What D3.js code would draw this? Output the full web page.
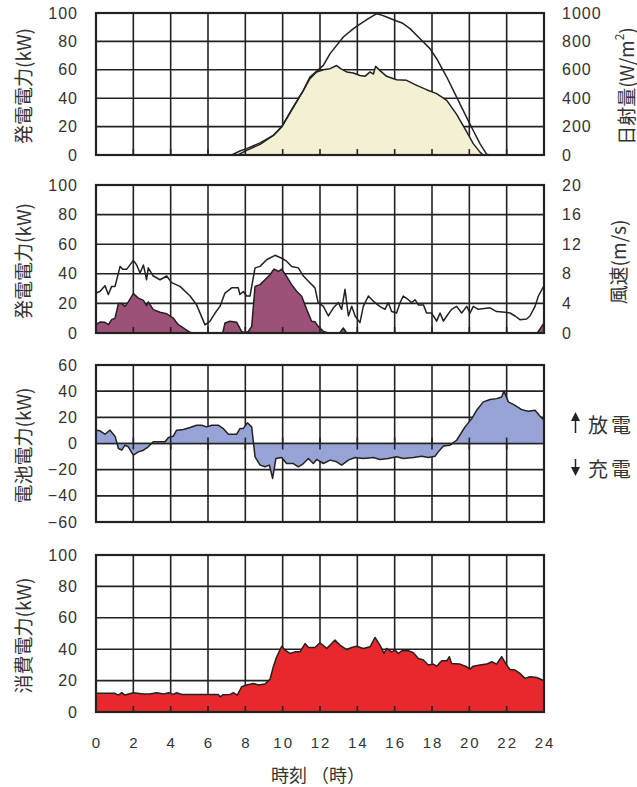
<!DOCTYPE html>
<html>
<head>
<meta charset="utf-8">
<script src="https://cdn.jsdelivr.net/npm/d3@7"></script>
<style>
  body { margin: 0; background: #fff; }
  svg { display: block; }
</style>
</head>
<body>
<div id="chart"></div>
<script>
// Hour ticks shared by every panel
const hourTicks = [0, 2, 4, 6, 8, 10, 12, 14, 16, 18, 20, 22, 24];

// Panel 1: solar generation (kW) and irradiance (W/m2), [hour, value]
const pvIrradiance = [[7.27, 0], [7.71, 28], [8.07, 45], [8.79, 85], [9.5, 138], [9.95, 197], [10.57, 338], [11.11, 455], [11.46, 549], [11.55, 560], [12.18, 631], [12.54, 714], [13.25, 831], [13.79, 890], [14.18, 925], [14.59, 960], [15.04, 995], [15.3, 985], [15.57, 972], [16.1, 944], [16.4, 930], [16.82, 890], [17.36, 819], [17.89, 749], [18.25, 678], [18.79, 549], [19.32, 408], [19.86, 263], [20.25, 162], [20.57, 80], [20.93, 5], [21.1, 0]];
const pvPower = [[7.6, 0], [8.07, 3.3], [8.79, 7.5], [9.5, 13.8], [9.95, 20], [10.57, 33.8], [11.11, 45.5], [11.46, 53.8], [11.82, 58.5], [12.18, 60], [12.54, 60.8], [12.89, 63], [13.1, 60.8], [13.43, 58.5], [13.79, 57.7], [14.14, 56], [14.41, 55.4], [14.68, 58.5], [14.86, 57], [14.98, 62.4], [15.2, 59.6], [15.57, 55.4], [16.1, 53], [16.64, 52.6], [17.18, 49], [17.71, 46], [18.25, 43.2], [18.79, 38.5], [19.32, 28.6], [19.86, 16.2], [20.21, 8], [20.57, 2], [20.75, 0]];

// Panel 2: wind generation (kW) and wind speed (m/s)
const windSpeed = [[0, 5.4], [0.21, 5.6], [0.48, 6.4], [0.66, 5.2], [0.84, 6.3], [1.02, 6.3], [1.29, 9.0], [1.43, 8.6], [1.64, 8.6], [1.82, 9.2], [2.0, 9.8], [2.18, 9.2], [2.36, 8.1], [2.54, 9.2], [2.71, 7.2], [2.8, 8.8], [3.07, 7.7], [3.43, 7.2], [3.79, 7.7], [4.05, 6.8], [4.5, 6.3], [5.04, 5.0], [5.39, 3.8], [5.84, 1.1], [6.11, 1.6], [6.38, 2.7], [6.64, 3.6], [6.91, 5.4], [7.27, 6.1], [7.62, 6.1], [7.71, 5.2], [7.89, 5.6], [8.07, 5.0], [8.25, 5.0], [8.52, 8.8], [8.79, 9.0], [9.14, 9.9], [9.59, 10.5], [9.95, 10.1], [10.21, 9.7], [10.48, 9.0], [10.84, 8.8], [11.11, 7.7], [11.46, 6.8], [11.73, 6.1], [11.9, 4.1], [12.18, 3.6], [12.45, 2.3], [12.72, 3.4], [12.98, 4.1], [13.16, 3.2], [13.34, 5.9], [13.52, 2.3], [13.7, 3.6], [13.88, 2.3], [14.14, 1.4], [14.32, 3.6], [14.59, 5.0], [14.86, 4.3], [15.2, 3.6], [15.48, 3.2], [15.66, 4.1], [15.84, 2.9], [16.1, 2.7], [16.29, 4.1], [16.46, 5.0], [16.73, 4.5], [16.91, 4.1], [17.09, 4.5], [17.27, 3.8], [17.54, 3.8], [17.71, 2.7], [17.98, 2.7], [18.25, 1.6], [18.43, 2.7], [18.61, 1.6], [18.79, 2.3], [19.05, 3.2], [19.32, 3.6], [19.59, 2.7], [19.86, 3.6], [20.04, 2.7], [20.21, 3.6], [20.48, 3.2], [21.11, 3.4], [21.46, 2.9], [21.91, 2.8], [22.18, 2.7], [22.45, 2.3], [22.71, 1.8], [23.07, 1.9], [23.25, 2.3], [23.52, 3.6], [23.7, 5.0], [24, 6.4]];
const windPower = [[0, 5.6], [0.21, 7.4], [0.48, 7.2], [0.66, 5.6], [0.84, 9], [1.02, 10], [1.2, 20], [1.38, 20], [1.55, 18], [1.73, 21], [2.0, 26.6], [2.27, 23.6], [2.54, 22], [2.71, 18.5], [2.8, 21], [3.07, 15.8], [3.43, 14], [3.79, 13], [4.14, 10], [4.41, 5.6], [4.68, 3.4], [4.95, 1.1], [5.13, 0], [6.79, 0], [6.91, 6.8], [7.18, 7.9], [7.54, 7.2], [7.8, 1.1], [7.98, 0], [8.16, 1], [8.34, 4.5], [8.52, 31.5], [8.79, 32.7], [9.05, 36], [9.32, 39.4], [9.54, 43.2], [9.77, 41.7], [9.95, 43.2], [10.21, 38.3], [10.48, 32.7], [10.75, 28.2], [11.02, 24.8], [11.29, 15.8], [11.55, 7.9], [11.73, 7.6], [11.9, 4.5], [12.18, 1.1], [12.45, 0], [13.05, 0], [13.25, 3.4], [13.43, 0], [23.6, 0], [23.7, 1], [24, 6.8]];

// Panel 3: battery power (kW), positive = discharge, negative = charge
const battery = [[0, 10.2], [0.21, 9.7], [0.48, 7.1], [0.75, 10.2], [1.02, 5.6], [1.2, -3.8], [1.38, -5.1], [1.55, -1.3], [1.73, -2.5], [2.0, -8.9], [2.27, -6.4], [2.54, -5.1], [2.8, -2.5], [3.07, 1.3], [3.43, 1.3], [3.7, 1.3], [3.88, 4.6], [4.14, 5.6], [4.32, 10.2], [4.68, 10.7], [5.04, 12.2], [5.39, 14], [5.66, 14], [5.93, 12.7], [6.2, 14], [6.55, 14], [6.82, 11.4], [7.09, 7.1], [7.54, 7.1], [7.71, 11.4], [7.89, 11.4], [8.11, 15.8], [8.34, 12.7], [8.52, -10.2], [8.79, -16.5], [9.05, -17.8], [9.29, -16.5], [9.46, -26.7], [9.64, -11.4], [9.95, -10.7], [10.21, -15.3], [10.57, -15.3], [10.84, -17.8], [11.11, -15.3], [11.38, -11.4], [11.64, -15.3], [11.82, -12.2], [12.18, -15.3], [12.54, -12.7], [12.89, -14], [13.16, -16.5], [13.52, -12.7], [13.88, -10.7], [14.32, -11.4], [14.86, -10.7], [15.2, -12.2], [15.66, -11.4], [16.1, -10.2], [16.46, -11.4], [17.0, -10.7], [17.45, -9.7], [17.8, -10.7], [18.16, -9.7], [18.34, -6.4], [18.61, -2], [18.97, -1.3], [19.32, 2.5], [19.77, 12.7], [20.13, 19], [20.39, 25.4], [20.75, 31.8], [21.11, 33.6], [21.46, 34.3], [21.73, 35.6], [21.86, 40.2], [22.09, 31.8], [22.45, 29.2], [22.8, 25.9], [23.16, 24.7], [23.52, 25.4], [23.79, 20.8], [24, 17.8]];

// Panel 4: consumption (kW)
const consumption = [[0, 11.9], [1.02, 11.9], [1.2, 10.8], [1.38, 12.3], [1.55, 10.8], [2.0, 12.3], [2.54, 11.4], [2.89, 11.4], [3.25, 12.3], [3.61, 11.4], [3.88, 12.3], [4.14, 11.2], [4.32, 12.3], [4.59, 11.2], [6.55, 11.2], [6.64, 9.7], [6.82, 11.0], [7.18, 11.2], [7.36, 12.3], [7.57, 10.8], [7.8, 16.1], [8.07, 17.2], [8.43, 18.2], [8.7, 17.2], [9.05, 17.8], [9.32, 20.8], [9.5, 28.8], [9.68, 35.2], [9.95, 41.9], [10.13, 39.4], [10.39, 37.3], [10.66, 38.3], [10.93, 38.3], [11.2, 43.6], [11.38, 41.1], [11.73, 41.1], [12.0, 44.1], [12.36, 40.5], [12.8, 45.8], [13.07, 42.6], [13.43, 39.8], [13.7, 41.1], [13.96, 41.9], [14.32, 40.5], [14.68, 41.5], [14.95, 47.5], [15.21, 42.6], [15.43, 37.3], [15.57, 40.5], [15.84, 38.3], [16.02, 39.4], [16.2, 37.3], [16.38, 39], [16.73, 39], [17.0, 37.7], [17.27, 34.1], [17.54, 33.1], [17.8, 29.9], [18.07, 30.5], [18.25, 29.2], [18.52, 32.6], [18.79, 32.6], [18.93, 35.2], [19.05, 30.9], [19.5, 30.5], [19.86, 28.8], [20.04, 27.3], [20.21, 29.2], [20.57, 29.9], [20.93, 30.5], [21.2, 32], [21.46, 30.5], [21.73, 35.2], [22.0, 29.9], [22.18, 27.1], [22.45, 26.7], [22.71, 24.6], [22.98, 21.4], [23.25, 22.5], [23.61, 22], [24, 19.9]];

// Axis tick values
const kwTicks = [0, 20, 40, 60, 80, 100];
const irrTicks = [0, 200, 400, 600, 800, 1000];
const windTicks = [0, 4, 8, 12, 16, 20];
const batTicks = [-60, -40, -20, 0, 20, 40, 60];

const width = 637, height = 787;
const left = 96, right = 544;
const ink = "#222";
const textColor = "#333";
const numFont = "'Liberation Sans', Arial, sans-serif";
const jpFont = "'Noto Sans CJK JP', sans-serif";

const svg = d3.select("#chart").append("svg")
  .attr("width", width).attr("height", height);

const x = d3.scaleLinear().domain([0, 24]).range([left, right]);

const fmt = d => (d < 0 ? "\u2212" + Math.abs(d) : String(d));

function panel(cfg) {
  const y = d3.scaleLinear().domain(cfg.domain).range([cfg.bottom, cfg.top]);
  const g = svg.append("g");

  // grid behind the fills
  g.append("g").selectAll("line.h").data(cfg.ticks).join("line")
    .attr("x1", left).attr("x2", right)
    .attr("y1", d => y(d)).attr("y2", d => y(d))
    .attr("stroke", ink).attr("stroke-width", 1.6);
  g.append("g").selectAll("line.v").data(hourTicks).join("line")
    .attr("x1", d => x(d)).attr("x2", d => x(d))
    .attr("y1", cfg.top).attr("y2", cfg.bottom)
    .attr("stroke", ink).attr("stroke-width", 1.6);

  // left tick labels
  g.append("g").selectAll("text").data(cfg.ticks).join("text")
    .attr("x", 78).attr("y", d => y(d))
    .attr("text-anchor", "end").attr("dominant-baseline", "central")
    .attr("font-family", numFont).attr("font-size", 16)
    .attr("letter-spacing", 1).attr("fill", textColor)
    .text(fmt);

  // left title
  g.append("text")
    .attr("transform", `translate(22,${(cfg.top + cfg.bottom) / 2 + 2}) rotate(-90)`)
    .attr("text-anchor", "middle").attr("dominant-baseline", "central")
    .attr("font-family", jpFont).attr("font-size", 19).attr("fill", textColor)
    .text(cfg.title);

  return { y, g };
}

function baseTicks(g, y0) {
  g.append("g").selectAll("line").data(hourTicks.slice(1, -1)).join("line")
    .attr("x1", d => x(d)).attr("x2", d => x(d))
    .attr("y1", y0 - 6).attr("y2", y0)
    .attr("stroke", ink).attr("stroke-width", 1.6);
}

function frame(g, top, bottom) {
  g.append("rect")
    .attr("x", left).attr("y", top)
    .attr("width", right - left).attr("height", bottom - top)
    .attr("fill", "none").attr("stroke", ink).attr("stroke-width", 2.2);
}

function areaPath(g, data, y, base, fill) {
  g.append("path").datum(data)
    .attr("d", d3.area().x(d => x(d[0])).y0(y(base)).y1(d => y(d[1])))
    .attr("fill", fill);
}

function linePath(g, data, y) {
  g.append("path").datum(data)
    .attr("d", d3.line().x(d => x(d[0])).y(d => y(d[1])))
    .attr("fill", "none").attr("stroke", ink)
    .attr("stroke-width", 1.5).attr("stroke-linejoin", "round");
}

function rightTicks(g, ticks, y2) {
  g.append("g").selectAll("text").data(ticks).join("text")
    .attr("x", 562).attr("y", d => y2(d))
    .attr("dominant-baseline", "central")
    .attr("font-family", numFont).attr("font-size", 16)
    .attr("letter-spacing", 1).attr("fill", textColor)
    .text(d => d);
}

// ---- Panel 1: solar
{
  const top = 13, bottom = 155;
  const { y, g } = panel({ top, bottom, domain: [0, 100], ticks: kwTicks, title: "発電電力(kW)" });
  const y2 = d3.scaleLinear().domain([0, 1000]).range([bottom, top]);
  areaPath(g, pvPower, y, 0, "#f3f0d3");
  linePath(g, pvIrradiance, y2);
  linePath(g, pvPower, y);
  baseTicks(g, bottom);
  frame(g, top, bottom);
  rightTicks(g, irrTicks, y2);
  const t = g.append("text")
    .attr("transform", `translate(625,${(top + bottom) / 2 + 2}) rotate(-90)`)
    .attr("text-anchor", "middle").attr("dominant-baseline", "central")
    .attr("font-family", jpFont).attr("font-size", 19).attr("fill", textColor);
  t.append("tspan").text("日射量(W/m");
  t.append("tspan").attr("font-size", 12).attr("dy", -7).text("2");
  t.append("tspan").attr("dy", 7).text(")");
}

// ---- Panel 2: wind
{
  const top = 185, bottom = 333;
  const { y, g } = panel({ top, bottom, domain: [0, 100], ticks: kwTicks, title: "発電電力(kW)" });
  const y2 = d3.scaleLinear().domain([0, 20]).range([bottom, top]);
  areaPath(g, windPower, y, 0, "#9d5078");
  linePath(g, windSpeed, y2);
  linePath(g, windPower, y);
  baseTicks(g, bottom);
  frame(g, top, bottom);
  rightTicks(g, windTicks, y2);
  g.append("text")
    .attr("transform", `translate(617,${(top + bottom) / 2 + 3}) rotate(-90)`)
    .attr("text-anchor", "middle").attr("dominant-baseline", "central")
    .attr("font-family", jpFont).attr("font-size", 19).attr("fill", textColor)
    .text("風速(m/s)");
}

// ---- Panel 3: battery
{
  const top = 365, bottom = 522;
  const { y, g } = panel({ top, bottom, domain: [-60, 60], ticks: batTicks, title: "電池電力(kW)" });
  areaPath(g, battery, y, 0, "#97a3d5");
  linePath(g, battery, y);
  g.append("g").selectAll("line").data(hourTicks.slice(1, -1)).join("line")
    .attr("x1", d => x(d)).attr("x2", d => x(d))
    .attr("y1", y(0) - 6).attr("y2", y(0) + 6)
    .attr("stroke", ink).attr("stroke-width", 1.6);
  g.append("line").attr("x1", left).attr("x2", right)
    .attr("y1", y(0)).attr("y2", y(0))
    .attr("stroke", ink).attr("stroke-width", 1.6);
  frame(g, top, bottom);

  // legend: discharge / charge arrows
  g.append("line").attr("x1", 575.5).attr("x2", 575.5).attr("y1", 419).attr("y2", 433)
    .attr("stroke", ink).attr("stroke-width", 1.5);
  g.append("path").attr("d", "M571,421 L575.5,412 L580,421 Z").attr("fill", ink);
  g.append("line").attr("x1", 575.5).attr("x2", 575.5).attr("y1", 459).attr("y2", 469)
    .attr("stroke", ink).attr("stroke-width", 1.5);
  g.append("path").attr("d", "M571,467 L575.5,476 L580,467 Z").attr("fill", ink);
  g.append("text").attr("x", 588).attr("y", 424).attr("dominant-baseline", "central")
    .attr("font-family", jpFont).attr("font-size", 20).attr("letter-spacing", 3)
    .attr("fill", textColor).text("放電");
  g.append("text").attr("x", 588).attr("y", 468).attr("dominant-baseline", "central")
    .attr("font-family", jpFont).attr("font-size", 20).attr("letter-spacing", 3)
    .attr("fill", textColor).text("充電");
}

// ---- Panel 4: consumption
{
  const top = 555, bottom = 712;
  const { y, g } = panel({ top, bottom, domain: [0, 100], ticks: kwTicks, title: "消費電力(kW)" });
  areaPath(g, consumption, y, 0, "#e9282e");
  linePath(g, consumption, y);
  baseTicks(g, bottom);
  frame(g, top, bottom);
}

// ---- Shared hour axis
svg.append("g").selectAll("text").data(hourTicks).join("text")
  .attr("x", d => x(d) + 1).attr("y", 742)
  .attr("text-anchor", "middle").attr("dominant-baseline", "central")
  .attr("font-family", numFont).attr("font-size", 15)
  .attr("letter-spacing", 2).attr("fill", textColor)
  .text(d => d);

svg.append("text")
  .attr("x", 318).attr("y", 774)
  .attr("text-anchor", "middle").attr("dominant-baseline", "central")
  .attr("font-family", jpFont).attr("font-size", 18).attr("fill", textColor)
  .text("時刻 （時）");
</script>
</body>
</html>
